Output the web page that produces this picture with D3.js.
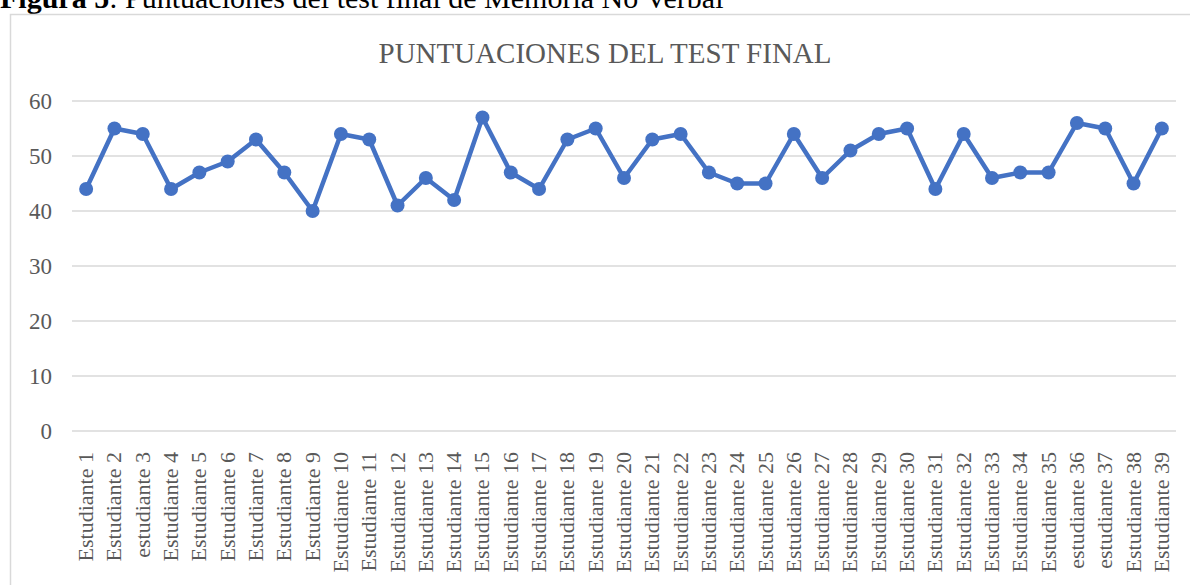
<!DOCTYPE html>
<html>
<head>
<meta charset="utf-8">
<script src="https://cdn.jsdelivr.net/npm/d3@7"></script>
<style>
  body { margin: 0; background: #fff; }
  svg { display: block; }
</style>
</head>
<body>
<div id="chart"></div>
<script>
// data
var estudiantes = [
  "Estudiante 1","Estudiante 2","estudiante 3","Estudiante 4","Estudiante 5",
  "Estudiante 6","Estudiante 7","Estudiante 8","Estudiante 9","Estudiante 10",
  "Estudiante 11","Estudiante 12","Estudiante 13","Estudiante 14","Estudiante 15",
  "Estudiante 16","Estudiante 17","Estudiante 18","Estudiante 19","Estudiante 20",
  "Estudiante 21","Estudiante 22","Estudiante 23","Estudiante 24","Estudiante 25",
  "Estudiante 26","Estudiante 27","Estudiante 28","Estudiante 29","Estudiante 30",
  "Estudiante 31","Estudiante 32","Estudiante 33","Estudiante 34","Estudiante 35",
  "estudiante 36","estudiante 37","Estudiante 38","Estudiante 39"
];
var puntuaciones = [44,55,54,44,47,49,53,47,40,54,53,41,46,42,57,47,44,53,55,46,
                    53,54,47,45,45,54,46,51,54,55,44,54,46,47,47,56,55,45,55];
var yTicks = [0,10,20,30,40,50,60];

var W = 1190, H = 585;
var plotLeft = 72, plotRight = 1176, plotTop = 101, plotBottom = 431;
var serif = "'Liberation Serif','Times New Roman',serif";
var grey = "#595959";
var blue = "#4472C4";

var svg = d3.select("#chart").append("svg")
    .attr("width", W)
    .attr("height", H);

// caption above the chart box (partly cut off at top)
var cap = svg.append("text")
    .attr("x", 0)
    .attr("y", 8)
    .attr("font-family", serif)
    .attr("font-size", 30)
    .attr("fill", "#000");
cap.append("tspan").attr("font-weight", "bold").text("Figura 5");
cap.append("tspan").text(": Puntuaciones del test final de Memoria No Verbal");

// chart area border
svg.append("rect")
    .attr("x", 10.5)
    .attr("y", 14.5)
    .attr("width", W)
    .attr("height", H)
    .attr("fill", "white")
    .attr("stroke", "#d9d9d9")
    .attr("stroke-width", 1.5);

svg.append("text")
    .attr("x", 605)
    .attr("y", 63)
    .attr("text-anchor", "middle")
    .attr("font-family", serif)
    .attr("font-size", 29)
    .attr("fill", grey)
    .text("PUNTUACIONES DEL TEST FINAL");

var x = d3.scaleBand()
    .domain(estudiantes)
    .range([plotLeft, plotRight]);

var y = d3.scaleLinear()
    .domain([0, 60])
    .range([plotBottom, plotTop]);

// gridlines
svg.append("g")
    .selectAll("line")
    .data(yTicks)
    .enter()
    .append("line")
    .attr("x1", plotLeft)
    .attr("x2", plotRight)
    .attr("y1", function(d){ return y(d); })
    .attr("y2", function(d){ return y(d); })
    .attr("stroke", "#d9d9d9")
    .attr("stroke-width", 1.3);

// y axis labels
var yAxis = svg.append("g")
    .attr("transform", "translate(" + (plotLeft - 20) + ",0)")
    .call(d3.axisLeft(y).tickValues(yTicks).tickSize(0).tickPadding(0));
yAxis.select(".domain").remove();
yAxis.selectAll("text")
    .attr("font-family", serif)
    .attr("font-size", 23)
    .attr("fill", grey);

// x axis labels (rotated)
var xAxis = svg.append("g")
    .attr("transform", "translate(0," + plotBottom + ")")
    .call(d3.axisBottom(x).tickSize(0).tickPadding(0));
xAxis.select(".domain").remove();
xAxis.selectAll("text")
    .attr("font-family", serif)
    .attr("font-size", 22)
    .attr("fill", grey)
    .attr("text-anchor", "end")
    .attr("dy", null)
    .attr("transform", "translate(7,21) rotate(-90)");

// line + markers
var line = d3.line()
    .x(function(d,i){ return x(estudiantes[i]) + x.bandwidth()/2; })
    .y(function(d){ return y(d); });

svg.append("path")
    .datum(puntuaciones)
    .attr("d", line)
    .attr("fill", "none")
    .attr("stroke", blue)
    .attr("stroke-width", 4.5)
    .attr("stroke-linejoin", "round");

svg.append("g")
    .selectAll("circle")
    .data(puntuaciones)
    .enter()
    .append("circle")
    .attr("cx", function(d,i){ return x(estudiantes[i]) + x.bandwidth()/2; })
    .attr("cy", function(d){ return y(d); })
    .attr("r", 7)
    .attr("fill", blue);
</script>
</body>
</html>
